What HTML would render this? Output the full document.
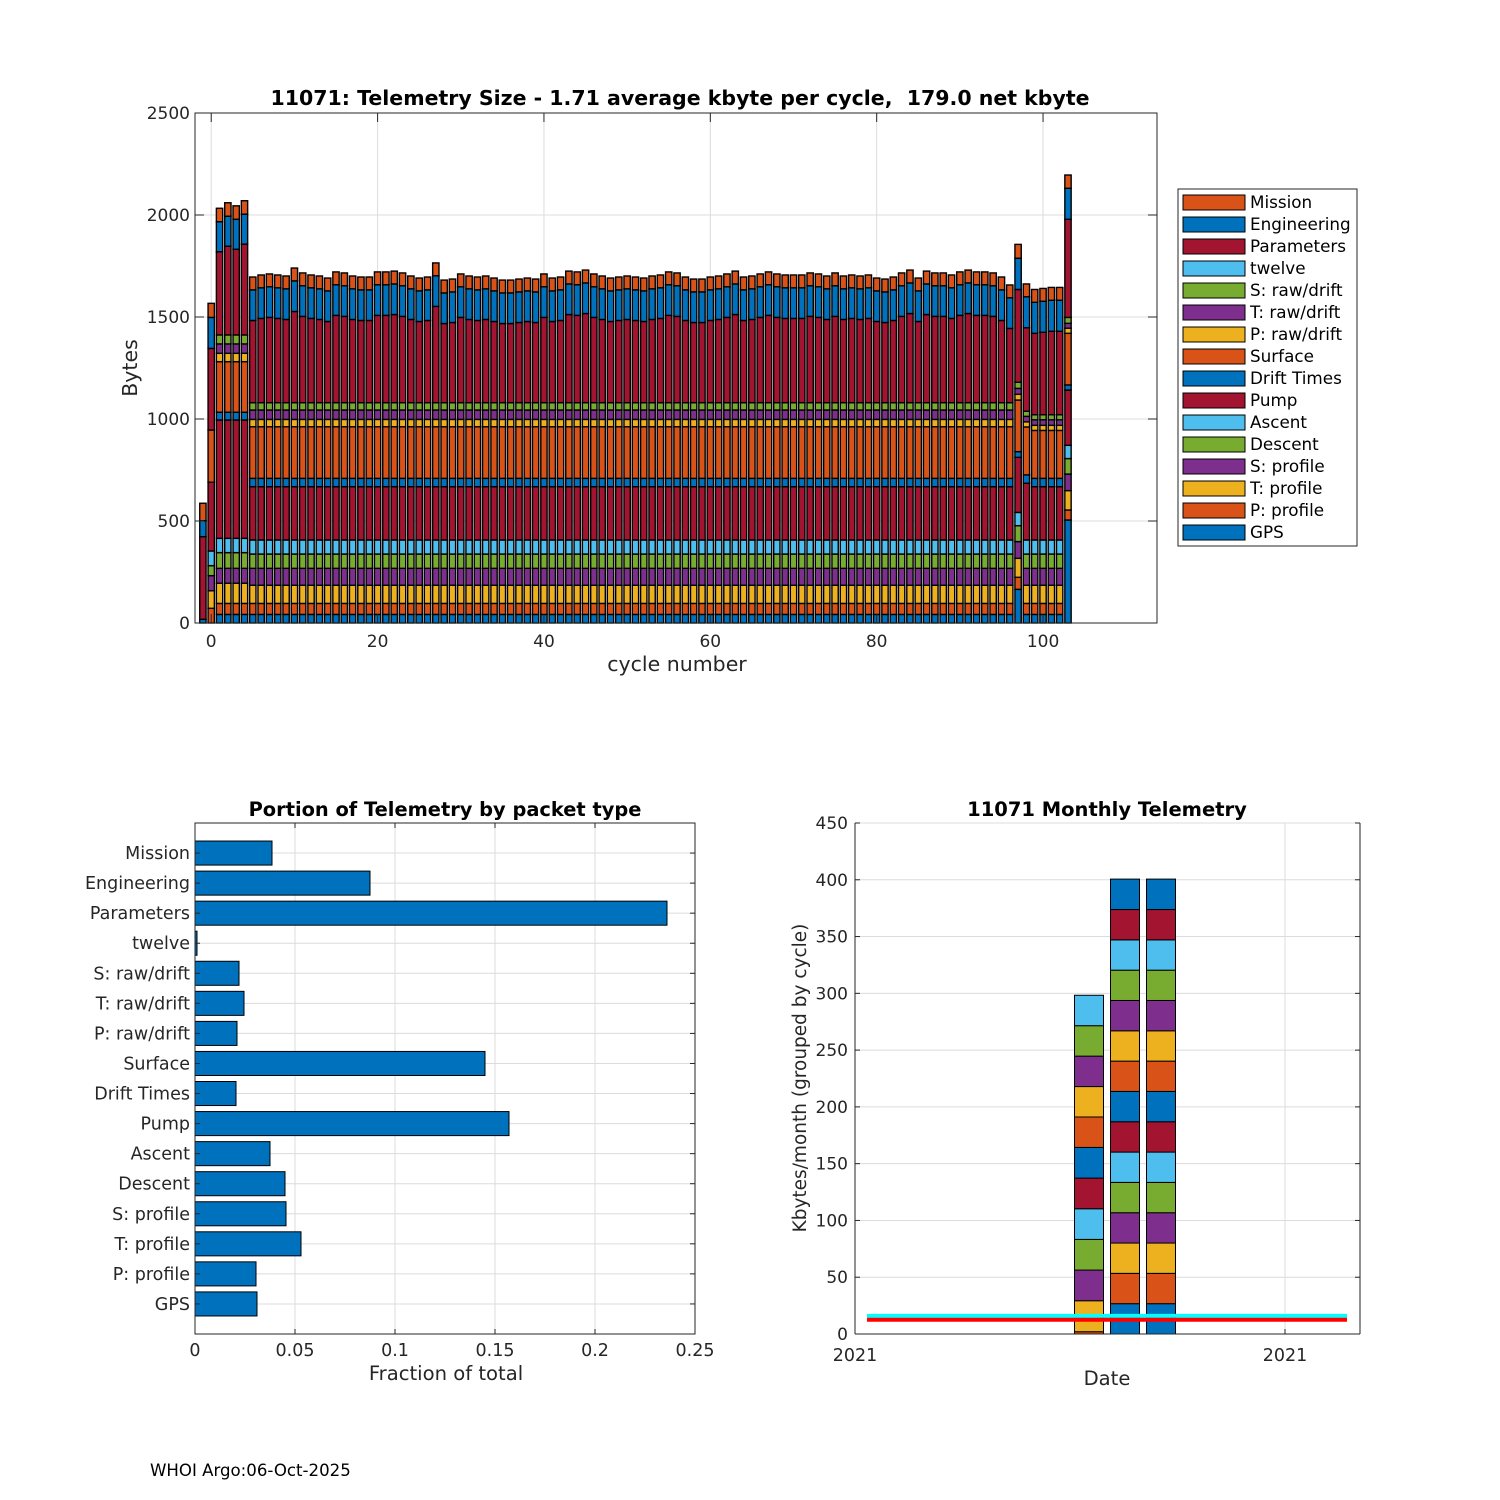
<!DOCTYPE html>
<html><head><meta charset="utf-8"><style>
html,body{margin:0;padding:0;background:#fff;}
svg{display:block;font-family:"DejaVu Sans","Liberation Sans",sans-serif;}
</style></head><body>
<svg id="fig" width="1500" height="1500" viewBox="0 0 1500 1500" xmlns="http://www.w3.org/2000/svg">
<rect x="0" y="0" width="1500" height="1500" fill="#fff"/>
<g id="top"></g>
<g id="left"></g>
<g id="right"></g>
<text x="150" y="1476" font-size="16.6" fill="#000">WHOI Argo:06-Oct-2025</text>
</svg>
<script>
// ===== top chart data (cycles -1..103) =====
const cycles = [-1,0,1,2,3,4,5,6,7,8,9,10,11,12,13,14,15,16,17,18,19,20,21,22,23,24,25,26,27,28,29,30,31,32,33,34,35,36,37,38,39,40,41,42,43,44,45,46,47,48,49,50,51,52,53,54,55,56,57,58,59,60,61,62,63,64,65,66,67,68,69,70,71,72,73,74,75,76,77,78,79,80,81,82,83,84,85,86,87,88,89,90,91,92,93,94,95,96,97,98,99,100,101,102,103];
const seriesNames = ["GPS","P: profile","T: profile","S: profile","Descent","Ascent","Pump","Drift Times","Surface","P: raw/drift","T: raw/drift","S: raw/drift","twelve","Parameters","Engineering","Mission"];
const gps = [18,0,42,42,42,42,
42,42,42,42,42,42,42,42,42,42,42,42,42,42,42,42,42,42,42,42,42,42,42,
42,42,42,42,42,42,42,42,42,42,42,42,42,42,42,42,42,42,42,42,42,42,42,
42,42,42,42,42,42,42,42,42,42,42,42,42,42,42,42,42,42,42,42,42,42,42,
42,42,42,42,42,42,42,42,42,42,42,42,42,42,42,42,42,42,42,42,42,42,42,
165,42,42,42,42,42,505];
const pProfile = [0,72,54,54,54,54,
54,54,54,54,54,54,54,54,54,54,54,54,54,54,54,54,54,54,54,54,54,54,54,
54,54,54,54,54,54,54,54,54,54,54,54,54,54,54,54,54,54,54,54,54,54,54,
54,54,54,54,54,54,54,54,54,54,54,54,54,54,54,54,54,54,54,54,54,54,54,
54,54,54,54,54,54,54,54,54,54,54,54,54,54,54,54,54,54,54,54,54,54,54,
59,54,54,54,54,54,49];
const tProfile = [0,86,99,99,99,99,
89,89,89,89,89,89,89,89,89,89,89,89,89,89,89,89,89,89,89,89,89,89,89,
89,89,89,89,89,89,89,89,89,89,89,89,89,89,89,89,89,89,89,89,89,89,89,
89,89,89,89,89,89,89,89,89,89,89,89,89,89,89,89,89,89,89,89,89,89,89,
89,89,89,89,89,89,89,89,89,89,89,89,89,89,89,89,89,89,89,89,89,89,89,
93,89,89,89,89,89,95];
const sProfile = [0,74,73,73,73,73,
83,83,83,83,83,83,83,83,83,83,83,83,83,83,83,83,83,83,83,83,83,83,83,
83,83,83,83,83,83,83,83,83,83,83,83,83,83,83,83,83,83,83,83,83,83,83,
83,83,83,83,83,83,83,83,83,83,83,83,83,83,83,83,83,83,83,83,83,83,83,
83,83,83,83,83,83,83,83,83,83,83,83,83,83,83,83,83,83,83,83,83,83,83,
82,83,83,83,83,83,81];
const descent = [0,49,77,77,77,77,
70,70,70,70,70,70,70,70,70,70,70,70,70,70,70,70,70,70,70,70,70,70,70,
70,70,70,70,70,70,70,70,70,70,70,70,70,70,70,70,70,70,70,70,70,70,70,
70,70,70,70,70,70,70,70,70,70,70,70,70,70,70,70,70,70,70,70,70,70,70,
70,70,70,70,70,70,70,70,70,70,70,70,70,70,70,70,70,70,70,70,70,70,70,
78,70,70,70,70,70,76];
const ascent = [0,72,70,70,70,70,
69,69,69,69,69,69,69,69,69,69,69,69,69,69,69,69,69,69,69,69,69,69,69,
69,69,69,69,69,69,69,69,69,69,69,69,69,69,69,69,69,69,69,69,69,69,69,
69,69,69,69,69,69,69,69,69,69,69,69,69,69,69,69,69,69,69,69,69,69,69,
69,69,69,69,69,69,69,69,69,69,69,69,69,69,69,69,69,69,69,69,69,69,69,
65,69,69,69,69,69,65];
const pump = [0,337,580,580,580,580,
261,261,261,261,261,261,261,261,261,261,261,261,261,261,261,261,261,261,261,261,261,261,261,
261,261,261,261,261,261,261,261,261,261,261,261,261,261,261,261,261,261,261,261,261,261,261,
261,261,261,261,261,261,261,261,261,261,261,261,261,261,261,261,261,261,261,261,261,261,261,
261,261,261,261,261,261,261,261,261,261,261,261,261,261,261,261,261,261,261,261,261,261,261,
270,278,261,261,261,261,271];
const driftTimes = [0,0,38,38,38,38,
41,41,41,41,41,41,41,41,41,41,41,41,41,41,41,41,41,41,41,41,41,41,41,
41,41,41,41,41,41,41,41,41,41,41,41,41,41,41,41,41,41,41,41,41,41,41,
41,41,41,41,41,41,41,41,41,41,41,41,41,41,41,41,41,41,41,41,41,41,41,
41,41,41,41,41,41,41,41,41,41,41,41,41,41,41,41,41,41,41,41,41,41,41,
28,41,41,41,41,41,25];
const surface = [0,256,248,248,248,248,
253,253,253,253,253,253,253,253,253,253,253,253,253,253,253,253,253,253,253,253,253,253,253,
253,253,253,253,253,253,253,253,253,253,253,253,253,253,253,253,253,253,253,253,253,253,253,
253,253,253,253,253,253,253,253,253,253,253,253,253,253,253,253,253,253,253,253,253,253,253,
253,253,253,253,253,253,253,253,253,253,253,253,253,253,253,253,253,253,253,253,253,253,253,
253,235,235,235,235,235,253];
const pRaw = [0,0,41,41,41,41,
36,36,36,36,36,36,36,36,36,36,36,36,36,36,36,36,36,36,36,36,36,36,36,
36,36,36,36,36,36,36,36,36,36,36,36,36,36,36,36,36,36,36,36,36,36,36,
36,36,36,36,36,36,36,36,36,36,36,36,36,36,36,36,36,36,36,36,36,36,36,
36,36,36,36,36,36,36,36,36,36,36,36,36,36,36,36,36,36,36,36,36,36,36,
28,25,25,25,25,25,25];
const tRaw = [0,0,46,46,46,46,
46,46,46,46,46,46,46,46,46,46,46,46,46,46,46,46,46,46,46,46,46,46,46,
46,46,46,46,46,46,46,46,46,46,46,46,46,46,46,46,46,46,46,46,46,46,46,
46,46,46,46,46,46,46,46,46,46,46,46,46,46,46,46,46,46,46,46,46,46,46,
46,46,46,46,46,46,46,46,46,46,46,46,46,46,46,46,46,46,46,46,46,46,46,
29,27,27,27,27,27,24];
const sRaw = [0,0,44,44,44,44,
36,36,36,36,36,36,36,36,36,36,36,36,36,36,36,36,36,36,36,36,36,36,36,
36,36,36,36,36,36,36,36,36,36,36,36,36,36,36,36,36,36,36,36,36,36,36,
36,36,36,36,36,36,36,36,36,36,36,36,36,36,36,36,36,36,36,36,36,36,36,
36,36,36,36,36,36,36,36,36,36,36,36,36,36,36,36,36,36,36,36,36,36,36,
30,25,25,25,25,25,29];
const twelve = [0,0,0,0,0,0,
0,0,0,0,0,0,0,0,0,0,0,0,0,0,0,0,0,0,0,0,0,0,0,
0,0,0,0,0,0,0,0,0,0,0,0,0,0,0,0,0,0,0,0,0,0,0,
0,0,0,0,0,0,0,0,0,0,0,0,0,0,0,0,0,0,0,0,0,0,0,
0,0,0,0,0,0,0,0,0,0,0,0,0,0,0,0,0,0,0,0,0,0,0,
0,0,0,0,0,0,0];
const parameters = [405,400,408,435,420,445,
403,413,418,413,408,447,423,413,408,398,428,423,408,403,403,428,428,
432,423,408,398,403,472,388,393,418,408,403,408,398,388,388,393,398,
393,418,398,403,432,428,437,418,408,398,403,408,403,398,408,413,428,
423,403,393,393,403,408,418,432,403,408,418,428,418,413,413,413,423,
418,408,423,408,413,408,413,398,393,403,423,437,398,432,423,423,413,
428,437,428,428,423,403,364,
455,409,399,404,409,409,481];
const engineering = [78,152,147,147,147,147,
150,150,150,150,150,150,150,150,150,150,150,150,150,150,150,150,150,150,150,150,150,150,150,
150,150,150,150,150,150,150,150,150,150,150,150,150,150,150,150,150,150,150,150,150,150,150,
150,150,150,150,150,150,150,150,150,150,150,150,150,150,150,150,150,150,150,150,150,150,150,
150,150,150,150,150,150,150,150,150,150,150,150,150,150,150,150,150,150,150,150,150,150,150,
153,152,152,152,152,152,152];
const mission = [86,69,66,66,66,66,
63,63,63,63,63,63,63,63,63,63,63,63,63,63,63,63,63,63,63,63,63,63,63,
63,63,63,63,63,63,63,63,63,63,63,63,63,63,63,63,63,63,63,63,63,63,63,
63,63,63,63,63,63,63,63,63,63,63,63,63,63,63,63,63,63,63,63,63,63,63,
63,63,63,63,63,63,63,63,63,63,63,63,63,63,63,63,63,63,63,63,63,63,63,
68,63,63,63,63,63,65];
const topXTicks = [0,20,40,60,80,100];
const topYTicks = [0,500,1000,1500,2000,2500];

// ===== portion chart data =====
const portionCats = ["Mission","Engineering","Parameters","twelve","S: raw/drift","T: raw/drift","P: raw/drift","Surface","Drift Times","Pump","Ascent","Descent","S: profile","T: profile","P: profile","GPS"];
const portionVals = [0.0385,0.0875,0.236,0.001,0.022,0.0245,0.021,0.145,0.0205,0.157,0.0375,0.045,0.0455,0.053,0.0305,0.031];
const portionXTicks = [0,0.05,0.1,0.15,0.2,0.25];
const portionXLabels = ["0","0.05","0.1","0.15","0.2","0.25"];

// ===== monthly chart data =====
const months = [0,1,2];
const monthSegs1 = [2,27.3,27,27,27,27,27,26.8,26.8,26.8,26.8,26.8];
const monthSegs2 = [26.7,26.7,26.7,26.7,26.7,26.7,26.7,26.7,26.7,26.7,26.7,26.7,26.7,26.7,26.8];
const monthSegs3 = [26.7,26.7,26.7,26.7,26.7,26.7,26.7,26.7,26.7,26.7,26.7,26.7,26.7,26.7,26.8];
const monthStartColor = [1,0,0];
const monthYTicks = [0,50,100,150,200,250,300,350,400,450];
const cyanLevel = 16;
const redLevel = 12.5;

const C = ["#0072BD","#D95319","#EDB120","#7E2F8E","#77AC30","#4DBEEE","#A2142F"];
const seriesColors = [C[0],C[1],C[2],C[3],C[4],C[5],C[6],C[0],C[1],C[2],C[3],C[4],C[5],C[6],C[0],C[1]];
const seriesData = [gps,pProfile,tProfile,sProfile,descent,ascent,pump,driftTimes,surface,pRaw,tRaw,sRaw,twelve,parameters,engineering,mission];

const NS = "http://www.w3.org/2000/svg";
function mk(parent, tag, attrs, txt){
  const e = document.createElementNS(NS, tag);
  for (const k in attrs) e.setAttribute(k, attrs[k]);
  if (txt !== undefined) e.textContent = txt;
  parent.appendChild(e);
  return e;
}
function slug(s){return s.toLowerCase().replace(/[^a-z0-9]+/g,'-').replace(/^-|-$/g,'');}

// ================= TOP CHART =================
(function(){
  const g = document.getElementById('top');
  const L=195, R=1157, T=113, B=623;
  const xMin=-1.95, xMax=113.7, yMax=2500;
  const xs = v => L + (v - xMin) / (xMax - xMin) * (R - L);
  const ys = v => B - v / yMax * (B - T);
  mk(g,'rect',{x:L,y:T,width:R-L,height:B-T,fill:'#fff'});
  topXTicks.forEach(t=>{ mk(g,'line',{x1:xs(t),x2:xs(t),y1:T,y2:B,stroke:'#dcdcdc','stroke-width':1}); });
  topYTicks.forEach(t=>{ mk(g,'line',{x1:L,x2:R,y1:ys(t),y2:ys(t),stroke:'#dcdcdc','stroke-width':1}); });
  const bw = (xs(1)-xs(0))*0.76;
  cycles.forEach((c,i)=>{
    let acc = 0;
    const bg = mk(g,'g',{});
    
    
    seriesData.forEach((arr,s)=>{
      const v = arr[i] || 0;
      if (v <= 0) return;
      const y0 = ys(acc), y1 = ys(acc+v);
      const r = mk(bg,'rect',{x:xs(c)-bw/2,y:y1,width:bw,height:y0-y1,fill:seriesColors[s],stroke:'#000','stroke-width':1.4});
      
      
      acc += v;
    });
  });
  mk(g,'rect',{x:L,y:T,width:R-L,height:B-T,fill:'none',stroke:'#262626','stroke-width':1});
  topXTicks.forEach(t=>{
    mk(g,'line',{x1:xs(t),x2:xs(t),y1:B,y2:B-9,stroke:'#262626'});
    mk(g,'line',{x1:xs(t),x2:xs(t),y1:T,y2:T+9,stroke:'#262626'});
    const tx = mk(g,'text',{x:xs(t),y:B+24,'font-size':17,'text-anchor':'middle',fill:'#262626'},String(t));
    
    
  });
  topYTicks.forEach(t=>{
    mk(g,'line',{x1:L,x2:L+9,y1:ys(t),y2:ys(t),stroke:'#262626'});
    mk(g,'line',{x1:R,x2:R-9,y1:ys(t),y2:ys(t),stroke:'#262626'});
    const tx = mk(g,'text',{x:L-5,y:ys(t)+6,'font-size':17,'text-anchor':'end',fill:'#262626'},String(t));
    
    
  });
  const xl = mk(g,'text',{x:677,y:671,'font-size':20.5,'text-anchor':'middle',fill:'#262626'},'cycle number');
   
  const yl = mk(g,'text',{x:0,y:0,'font-size':20.5,'text-anchor':'middle',fill:'#262626',transform:'translate(137,368) rotate(-90)'},'Bytes');
   
  const tt = mk(g,'text',{x:680,y:105,'font-size':20.5,'font-weight':'bold','text-anchor':'middle',fill:'#000',style:'white-space:pre'},'11071: Telemetry Size - 1.71 average kbyte per cycle,  179.0 net kbyte');
   
  // legend
  const lg = mk(g,'g',{});
   
  mk(lg,'rect',{x:1178,y:189,width:179,height:357,fill:'#fff',stroke:'#262626','stroke-width':1});
  for (let k=0;k<16;k++){
    const s = 15-k;
    const y = 202 + k*22;
    const eg = mk(lg,'g',{});
    
    
    mk(eg,'rect',{x:1183,y:y-7,width:62,height:15,fill:seriesColors[s],stroke:'#000','stroke-width':1});
    mk(eg,'text',{x:1250,y:y+6,'font-size':16.8,fill:'#000'},seriesNames[s]);
  }
})();

// ================= BOTTOM LEFT =================
(function(){
  const g = document.getElementById('left');
  const L=195, R=695, T=823, B=1334;
  const xs = v => L + v/0.25*(R-L);
  const ys = i => B - (16 - i) * (B-T)/17;
  mk(g,'rect',{x:L,y:T,width:R-L,height:B-T,fill:'#fff'});
  portionXTicks.forEach(t=>{ mk(g,'line',{x1:xs(t),x2:xs(t),y1:T,y2:B,stroke:'#dcdcdc'}); });
  portionCats.forEach((c,i)=>{ mk(g,'line',{x1:L,x2:R,y1:ys(i),y2:ys(i),stroke:'#dcdcdc'}); });
  const bh = (B-T)/17*0.8;
  portionCats.forEach((c,i)=>{
    const r = mk(g,'rect',{x:xs(0),y:ys(i)-bh/2,width:xs(portionVals[i])-xs(0),height:bh,fill:'#0072BD',stroke:'#000','stroke-width':1});
    
    
    const tx = mk(g,'text',{x:L-5,y:ys(i)+6,'font-size':17.5,'text-anchor':'end',fill:'#262626'},c);
    
    
    mk(g,'line',{x1:L,x2:L+5,y1:ys(i),y2:ys(i),stroke:'#262626'});
    mk(g,'line',{x1:R,x2:R-5,y1:ys(i),y2:ys(i),stroke:'#262626'});
  });
  mk(g,'rect',{x:L,y:T,width:R-L,height:B-T,fill:'none',stroke:'#262626'});
  portionXTicks.forEach((t,i)=>{
    mk(g,'line',{x1:xs(t),x2:xs(t),y1:B,y2:B-5,stroke:'#262626'});
    mk(g,'line',{x1:xs(t),x2:xs(t),y1:T,y2:T+5,stroke:'#262626'});
    const tx = mk(g,'text',{x:xs(t),y:B+22,'font-size':17.5,'text-anchor':'middle',fill:'#262626'},portionXLabels[i]);
    
    
  });
  const xl = mk(g,'text',{x:446,y:1380,'font-size':19.6,'text-anchor':'middle',fill:'#262626'},'Fraction of total');
   
  const tt = mk(g,'text',{x:445,y:816,'font-size':19.4,'font-weight':'bold','text-anchor':'middle',fill:'#000'},'Portion of Telemetry by packet type');
   
})();

// ================= BOTTOM RIGHT =================
(function(){
  const g = document.getElementById('right');
  const L=855, R=1360, T=823, B=1334;
  const ys = v => B - v/450*(B-T);
  const xs = m => 1089 + m*36;
  mk(g,'rect',{x:L,y:T,width:R-L,height:B-T,fill:'#fff'});
  monthYTicks.forEach(t=>{ mk(g,'line',{x1:L,x2:R,y1:ys(t),y2:ys(t),stroke:'#dcdcdc'}); });
  [855,1285].forEach(x=>{ mk(g,'line',{x1:x,x2:x,y1:T,y2:B,stroke:'#dcdcdc'}); });
  const segs = [monthSegs1,monthSegs2,monthSegs3];
  const bw = 29;
  months.forEach((m,i)=>{
    let acc=0;
    const bg = mk(g,'g',{});
    
    
    segs[i].forEach((v,k)=>{
      const y0=ys(acc), y1=ys(acc+v);
      const r = mk(bg,'rect',{x:xs(m)-bw/2,y:y1,width:bw,height:y0-y1,fill:C[(monthStartColor[i]+k)%7],stroke:'#000','stroke-width':1});
      
      
      acc+=v;
    });
  });
  const cl = mk(g,'line',{x1:867,x2:1347,y1:ys(cyanLevel),y2:ys(cyanLevel),stroke:'#00FFFF','stroke-width':4});
   
  const rl = mk(g,'line',{x1:867,x2:1347,y1:ys(redLevel),y2:ys(redLevel),stroke:'#FF0000','stroke-width':4});
   
  mk(g,'line',{x1:L,x2:L,y1:T,y2:B,stroke:'#262626'});
  mk(g,'line',{x1:R,x2:R,y1:T,y2:B,stroke:'#262626'});
  mk(g,'line',{x1:L,x2:R,y1:B,y2:B,stroke:'#262626'});
  monthYTicks.forEach(t=>{
    mk(g,'line',{x1:L,x2:L+5,y1:ys(t),y2:ys(t),stroke:'#262626'});
    mk(g,'line',{x1:R,x2:R-5,y1:ys(t),y2:ys(t),stroke:'#262626'});
    const tx = mk(g,'text',{x:L-7,y:ys(t)+6,'font-size':17,'text-anchor':'end',fill:'#262626'},String(t));
    
    
  });
  [855,1285].forEach(x=>{
    mk(g,'line',{x1:x,x2:x,y1:B,y2:B-5,stroke:'#262626'});
    const tx = mk(g,'text',{x:x,y:B+27,'font-size':17.5,'text-anchor':'middle',fill:'#262626'},'2021');
    
    
  });
  const xl = mk(g,'text',{x:1107,y:1385,'font-size':19.6,'text-anchor':'middle',fill:'#262626'},'Date');
   
  const yl = mk(g,'text',{x:0,y:0,'font-size':18.5,'text-anchor':'middle',fill:'#262626',transform:'translate(806,1078) rotate(-90)'},'Kbytes/month (grouped by cycle)');
   
  const tt = mk(g,'text',{x:1107,y:816,'font-size':19.5,'font-weight':'bold','text-anchor':'middle',fill:'#000'},'11071 Monthly Telemetry');
   
})();
</script>
</body></html>
